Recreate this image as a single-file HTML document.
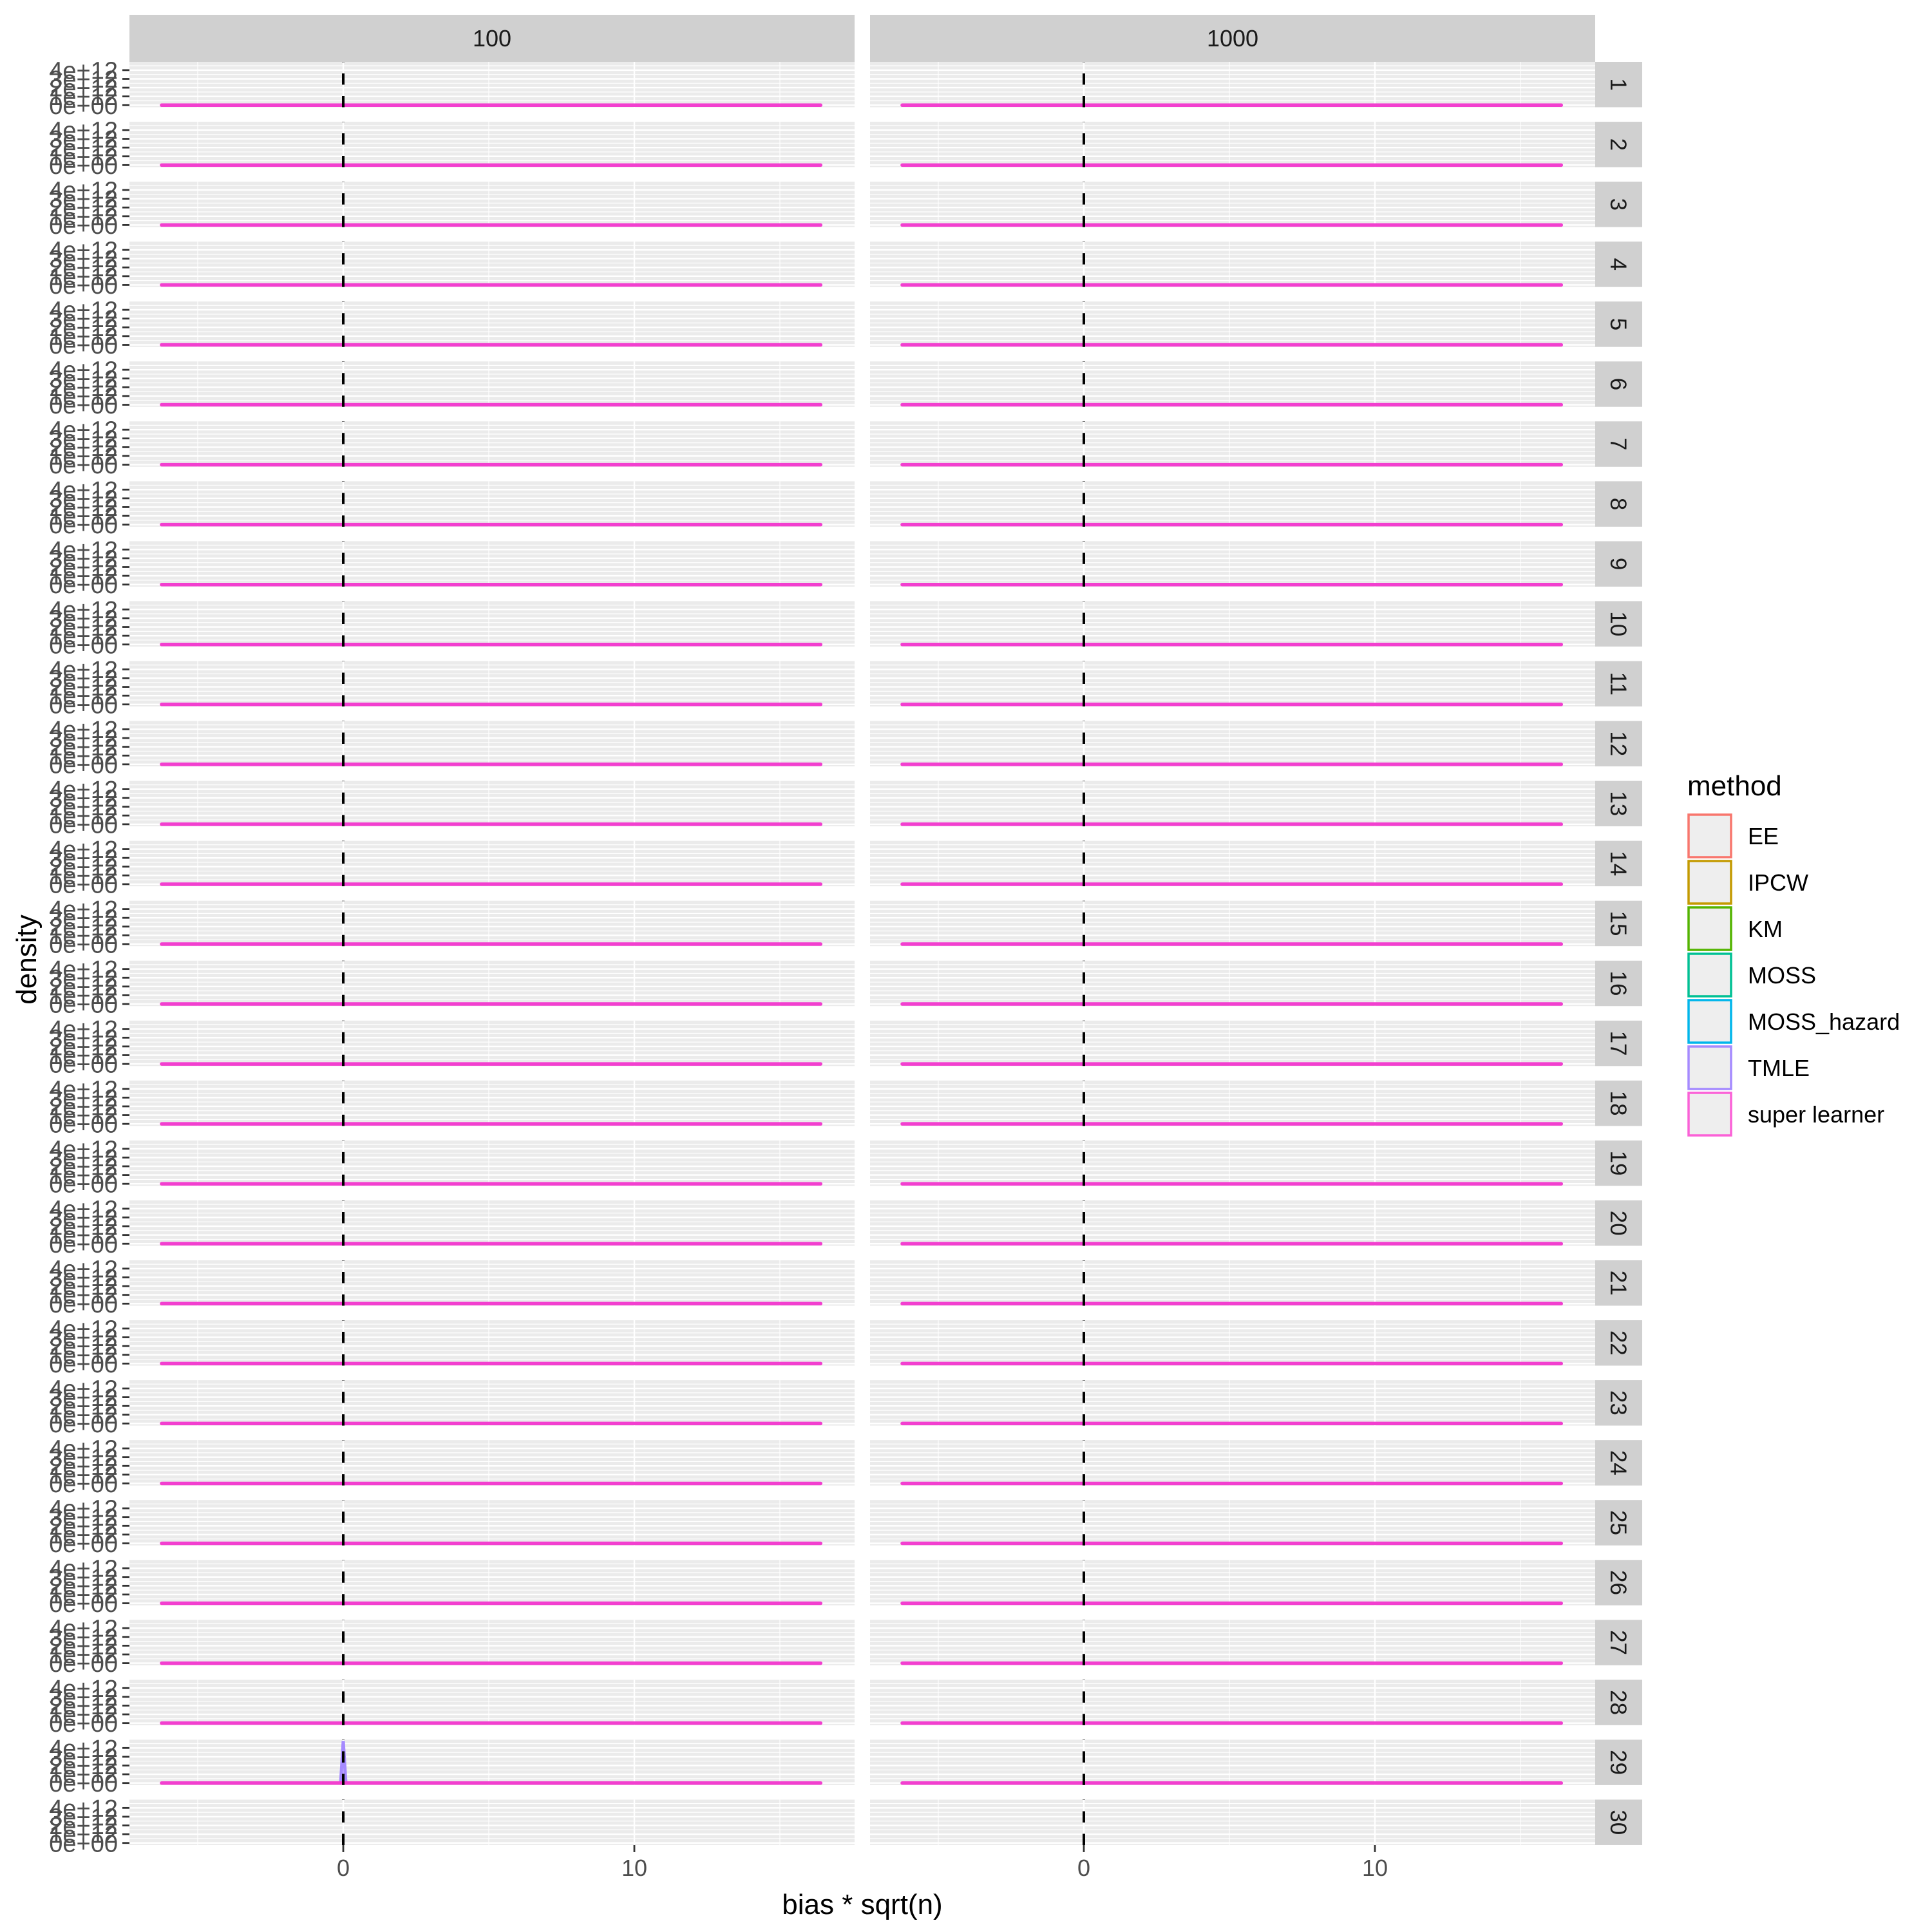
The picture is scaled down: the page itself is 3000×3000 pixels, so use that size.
<!DOCTYPE html>
<html><head><meta charset="utf-8"><style>
html,body{margin:0;padding:0;background:#fff;}
svg{display:block;font-family:"Liberation Sans",sans-serif;}
</style></head><body>
<svg id="chart" width="3000" height="3000" viewBox="0 0 3000 3000" xmlns="http://www.w3.org/2000/svg">
<g id="panels"></g>
<text x="1339" y="2972" font-size="44" text-anchor="middle" fill="#000">bias * sqrt(n)</text>
<text transform="translate(56,1490) rotate(-90)" font-size="44" text-anchor="middle" fill="#000">density</text>
<g id="legend">
<text x="2620" y="1235" font-size="44" fill="#000">method</text>
</g>
</svg>
<script>
const colLabels = ['100', '1000'];
const rowLabels = Array.from({length: 30}, (_, i) => String(i + 1));
const yTicks = [0, 1e12, 2e12, 3e12, 4e12];
const yTickLabels = ['0e+00', '1e+12', '2e+12', '3e+12', '4e+12'];
const yMinor = [0.5e12, 1.5e12, 2.5e12, 3.5e12, 4.5e12];
const xTicks = [0, 10];
const xTickLabels = ['0', '10'];
const xMinor = [-5, 5, 15];
const methods = ['EE', 'IPCW', 'KM', 'MOSS', 'MOSS_hazard', 'TMLE', 'super learner'];
const methodColors = ['#F8766D', '#C49A00', '#53B400', '#00C094', '#00B6EB', '#A58AFF', '#FB61D7'];
const lineXStart = -6.24;
const lineXEnd = 16.4;
const hasLine100 = [1,1,1,1,1,1,1,1,1,1,1,1,1,1,1,1,1,1,1,1,1,1,1,1,1,1,1,1,1,0];
const hasLine1000 = [1,1,1,1,1,1,1,1,1,1,1,1,1,1,1,1,1,1,1,1,1,1,1,1,1,1,1,1,1,0];
const tmleSpike100 = [0,0,0,0,0,0,0,0,0,0,0,0,0,0,0,0,0,0,0,0,0,0,0,0,0,0,0,0,4.8e12,0];
const tmleSpikeX = 0;
const tmleSpikeHalfWidth = 0.09;
const vlineX = 0;

const NS = 'http://www.w3.org/2000/svg';
const panelsG = document.getElementById('panels');
const colLeft = [201, 1351], panelW = 1126;
const top0 = 96, pitch = 93.05, panelH = 70.5, zeroOff = 67.3, pxPerE12 = 13.6;
const xDomMin = -7.345, pxPerUnit = 45.2;
function mk(tag, attrs, parent) {
  const e = document.createElementNS(NS, tag);
  for (const k in attrs) e.setAttribute(k, attrs[k]);
  parent.appendChild(e);
  return e;
}
function xs(c, v) { return colLeft[c] + (v - xDomMin) * pxPerUnit; }
function ys(r, v) { return top0 + r * pitch + zeroOff - v / 1e12 * pxPerE12; }

colLabels.forEach((lab, c) => {
  const s = mk('rect', {x: colLeft[c], y: 23, width: panelW, height: 73, fill: '#D0D0D0'}, panelsG);
  
  
  const t = mk('text', {x: colLeft[c] + panelW / 2, y: 72, 'font-size': 36, 'text-anchor': 'middle', fill: '#1A1A1A'}, panelsG);
  t.textContent = lab;
  
  
});

rowLabels.forEach((rl, r) => {
  const pt = top0 + r * pitch;
  colLabels.forEach((cl, c) => {
    const g = mk('g', {}, panelsG);
    
    
    mk('rect', {x: colLeft[c], y: pt, width: panelW, height: panelH, fill: '#EBEBEB'}, g);
    yMinor.forEach(v => { const y = ys(r, v); if (y > pt) mk('line', {x1: colLeft[c], x2: colLeft[c] + panelW, y1: y, y2: y, stroke: '#fff', 'stroke-width': 1.2}, g); });
    yTicks.forEach(v => { const y = ys(r, v); mk('line', {x1: colLeft[c], x2: colLeft[c] + panelW, y1: y, y2: y, stroke: '#fff', 'stroke-width': 2.4}, g); });
    xMinor.forEach(v => mk('line', {x1: xs(c, v), x2: xs(c, v), y1: pt, y2: pt + panelH, stroke: '#fff', 'stroke-width': 1.2}, g));
    xTicks.forEach(v => mk('line', {x1: xs(c, v), x2: xs(c, v), y1: pt, y2: pt + panelH, stroke: '#fff', 'stroke-width': 2.4}, g));
    const spike = c === 0 ? tmleSpike100[r] : 0;
    if (spike > 0) {
      const sp = mk('polygon', {points: `${xs(c, tmleSpikeX - tmleSpikeHalfWidth)},${ys(r, 0)} ${xs(c, tmleSpikeX)},${ys(r, spike)} ${xs(c, tmleSpikeX + tmleSpikeHalfWidth)},${ys(r, 0)}`, fill: '#A58AFF', 'fill-opacity': 0.5, stroke: '#A58AFF', 'stroke-width': 5}, g);
      
      
    }
    const has = c === 0 ? hasLine100[r] : hasLine1000[r];
    if (has) {
      const ln = mk('line', {x1: xs(c, lineXStart), x2: xs(c, lineXEnd), y1: ys(r, 0), y2: ys(r, 0), stroke: '#F23FCF', 'stroke-width': 5.5, 'stroke-linecap': 'round'}, g);
      
      
    }
    const vl = mk('line', {x1: xs(c, vlineX), x2: xs(c, vlineX), y1: pt + panelH, y2: pt, stroke: '#000', 'stroke-width': 4, 'stroke-dasharray': '17.5 17.5'}, g);
    
    
  });
  yTicks.forEach((v, i) => {
    const y = ys(r, v);
    mk('line', {x1: 190, x2: 201, y1: y, y2: y, stroke: '#333', 'stroke-width': 2.8}, panelsG);
    const t = mk('text', {x: 183, y: y + 13.5, 'font-size': 38, 'text-anchor': 'end', fill: '#4D4D4D'}, panelsG);
    t.textContent = yTickLabels[i];
    
    
  });
  const s = mk('rect', {x: 2477, y: pt, width: 73, height: panelH, fill: '#D0D0D0'}, panelsG);
  
  
  const t = mk('text', {transform: `translate(${2513 - 12},${pt + panelH / 2}) rotate(90)`, 'font-size': 35, 'text-anchor': 'middle', fill: '#1A1A1A'}, panelsG);
  t.textContent = rl;
  
  
});

const lastBottom = top0 + 29 * pitch + panelH;
colLabels.forEach((cl, c) => {
  xTicks.forEach((v, i) => {
    mk('line', {x1: xs(c, v), x2: xs(c, v), y1: lastBottom, y2: lastBottom + 11, stroke: '#333', 'stroke-width': 2.8}, panelsG);
    const t = mk('text', {x: xs(c, v), y: 2913, 'font-size': 36, 'text-anchor': 'middle', fill: '#4D4D4D'}, panelsG);
    t.textContent = xTickLabels[i];
    
    
  });
});

const legendG = document.getElementById('legend');
methods.forEach((m, i) => {
  const g = mk('g', {}, legendG);
  
  
  const ky = 1263 + i * 72;
  mk('rect', {x: 2622, y: ky + 2, width: 66, height: 66, fill: '#EEEEEE', stroke: methodColors[i], 'stroke-width': 3.5}, g);
  const t = mk('text', {x: 2714, y: ky + 48, 'font-size': 36, fill: '#000'}, g);
  t.textContent = m;
});
</script>
</body></html>
